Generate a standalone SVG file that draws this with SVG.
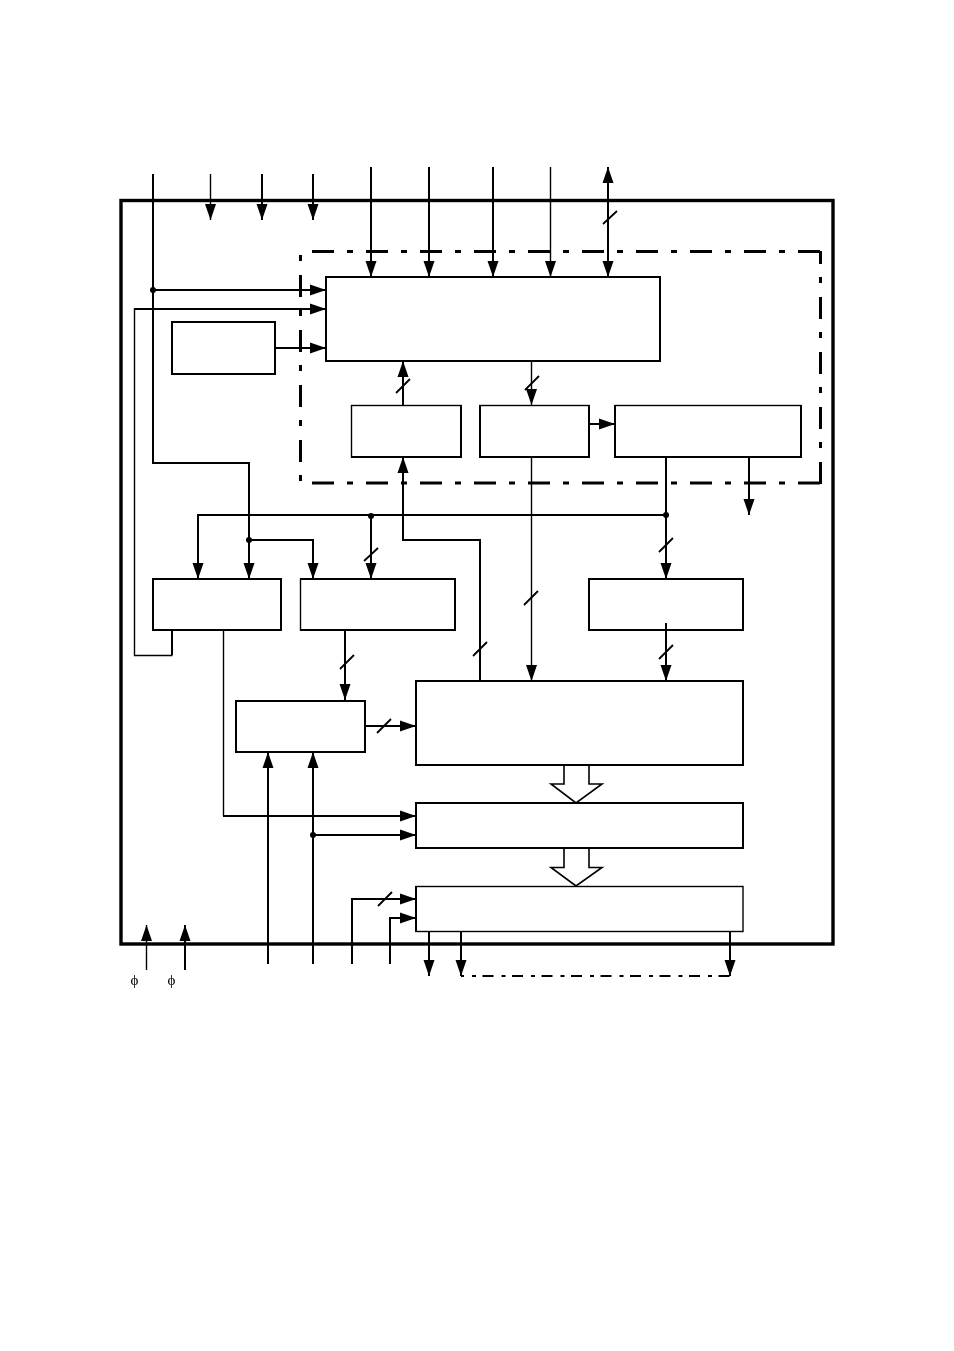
<svg xmlns="http://www.w3.org/2000/svg" width="954" height="1351" viewBox="0 0 954 1351">
<style>
.n{fill:#fff;stroke:#000;stroke-width:2;shape-rendering:crispEdges}
.m{fill:#fff;stroke:#000;stroke-width:1.4}
.c{fill:none;stroke:#000;stroke-width:2;shape-rendering:crispEdges}
.t{fill:none;stroke:#000;stroke-width:1.4}
.a{marker-end:url(#ah)}
.s{fill:none;stroke:#000;stroke-width:1.8}
.d{fill:#000}
.h{fill:#fff;stroke:#000;stroke-width:1.6}
.r{fill:none;stroke:#000;stroke-width:3;stroke-dasharray:22 13 6 13}
.p{font-family:"Liberation Serif","DejaVu Serif",serif;font-size:15px;text-anchor:middle;fill:#000}
</style>
<defs>
<filter id="gray" x="0" y="0" width="1" height="1"><feOffset dx="0" dy="0"/></filter>
<marker id="ah" markerUnits="userSpaceOnUse" markerWidth="11" markerHeight="17" refX="16" refY="5.5" orient="auto" overflow="visible"><path d="M0 0L16 5.5L0 11Z" fill="#000"/></marker>
<marker id="as" markerUnits="userSpaceOnUse" markerWidth="11" markerHeight="17" refX="16" refY="5.5" orient="auto-start-reverse" overflow="visible"><path d="M0 0L16 5.5L0 11Z" fill="#000"/></marker>
</defs>
<rect width="954" height="1351" fill="#fff"/>
<g id="chip"><rect x="121" y="200.500" width="712" height="743.500" fill="none" stroke="#000" stroke-width="3.400"/></g>
<g id="region">
<path class="r" d="M312 251.500H822"/>
<path class="r" d="M312 483H822"/>
<path class="r" d="M300.500 255V483" style="stroke-dasharray:6 14 22 13"/>
<path class="r" d="M820.500 251V484" style="stroke-dasharray:22 13 6 14;stroke-dashoffset:9"/>
</g>
<g id="n1"><rect class="n" x="326" y="277" width="334" height="84"/></g>
<g id="n2"><rect class="n" x="172" y="322" width="103" height="52"/></g>
<g id="n3"><rect class="m" x="351.500" y="405.500" width="109.500" height="51.500"/><path class="c" d="M461 405V458M351 457H462"/></g>
<g id="n4"><rect class="m" x="480" y="405.500" width="109" height="51.500"/><path class="c" d="M480 405V458M589 405V458M479 457H590"/></g>
<g id="n5"><rect class="m" x="615" y="405.500" width="186" height="51.500"/><path class="c" d="M615 405V458M801 405V458M614 457H802"/></g>
<g id="n6"><rect class="n" x="153" y="579" width="128" height="51"/></g>
<g id="n7"><rect class="m" x="300.500" y="579" width="154.500" height="51"/><path class="c" d="M300 579H456M455 578V631M300 630H456"/></g>
<g id="n8"><rect class="n" x="589" y="579" width="154" height="51"/></g>
<g id="n9"><rect class="n" x="236" y="701" width="129" height="51"/></g>
<g id="n10"><rect class="n" x="416" y="681" width="327" height="84"/></g>
<g id="n11"><rect class="n" x="416" y="803" width="327" height="45"/></g>
<g id="n12"><rect class="m" x="416" y="886.500" width="327" height="45"/><path class="c" d="M416 886V932"/></g>
<g id="connectors">
<path class="c a" d="M153 174V463H249V579"/>
<path class="c a" d="M153 290H326"/>
<path class="t a" d="M210.500 174V220"/>
<path class="c a" d="M262 174V220"/>
<path class="c a" d="M313 174V220"/>
<path class="c a" d="M371 167V277"/>
<path class="c a" d="M429 167V277"/>
<path class="c a" d="M493 167V277"/>
<path class="t a" d="M550.500 167V277"/>
<path class="c a" d="M608 167V277" marker-start="url(#as)"/>
<path class="c" d="M172 630V655"/>
<path class="t" d="M172.500 655.500H134.500V308"/>
<path class="c a" d="M134 309H326"/>
<path class="c a" d="M275 348H326"/>
<path class="c a" d="M403 405V361"/>
<path class="t a" d="M531.500 361V405"/>
<path class="c a" d="M589 424H615"/>
<path class="c a" d="M666 457V579"/>
<path class="c a" d="M749 457V515"/>
<path class="c a" d="M666 515H198V579"/>
<path class="c a" d="M371 516V579"/>
<path class="c a" d="M249 540H313V579"/>
<path class="c a" d="M480 681V540H403V457"/>
<path class="t a" d="M531.500 457V681"/>
<path class="c a" d="M666 623V681"/>
<path class="c a" d="M345 630V700"/>
<path class="c a" d="M365 726H416"/>
<path class="t" d="M223.500 630V816"/>
<path class="c a" d="M223 816H416"/>
<path class="c a" d="M268 964V752"/>
<path class="c a" d="M313 964V752"/>
<path class="c a" d="M313 835H416"/>
<path class="c a" d="M352 964V899H416"/>
<path class="c a" d="M390 964V918H416"/>
<path class="c a" d="M429 931V976"/>
<path class="c a" d="M461 931V976"/>
<path class="c a" d="M730 931V976"/>
<path d="M461 976H730" fill="none" stroke="#000" stroke-width="2" stroke-dasharray="11 8 4 6.500" stroke-dashoffset="8"/>
<path class="t a" d="M146.500 970V925"/>
<path class="c a" d="M185 970V925"/>
<path class="s" d="M603 224L617 211M396 393L410 379M525 390L539 376M364 561L378 548M659 552L673 538M524 605L538 591M473 656L487 642M659 659L673 645M340 669L354 655M377 733L391 719M378 906L392 892"/>
<path class="h" d="M564 766V784H551L576 803L602 784H589V766"/>
<path class="h" d="M564 849V867.500H551L576 886L602 867.500H589V849"/>
<circle class="d" cx="153" cy="290" r="3"/>
<circle class="d" cx="371" cy="516" r="3"/>
<circle class="d" cx="666" cy="515" r="3"/>
<circle class="d" cx="249" cy="540" r="3"/>
<circle class="d" cx="313" cy="835" r="3"/>
</g>
<g filter="url(#gray)">
<text class="p" x="134.500" y="985">ϕ</text>
<text class="p" x="171.500" y="985">ϕ</text>
</g>
</svg>
